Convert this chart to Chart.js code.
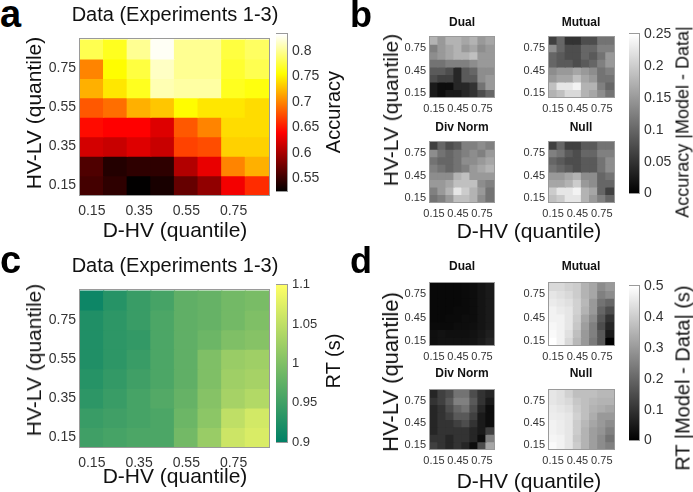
<!DOCTYPE html>
<html><head><meta charset="utf-8">
<script src="https://cdn.jsdelivr.net/npm/chart.js@4/dist/chart.umd.min.js"></script>
<style>
body{margin:0;background:#fff;}
#root{position:relative;width:693px;height:492px;overflow:hidden;font-family:"Liberation Sans",Arial,sans-serif;}
.t{position:absolute;white-space:nowrap;line-height:normal;color:#111;}
canvas{position:absolute;}
</style>
</head><body><div id="root"></div>
<script>
// ---------- DATA ----------
const xCats = ['0.15','0.25','0.35','0.45','0.55','0.65','0.75','0.85'];   // D-HV quantile bins
const yCats = [0.15,0.25,0.35,0.45,0.55,0.65,0.75,0.85];                   // HV-LV quantile bins
const bigXTicks = ['0.15','0.35','0.55','0.75'];
const bigYTicks = [0.15,0.35,0.55,0.75];
const smallXTicks = ['0.15','0.45','0.75'];
const smallYTicks = [0.15,0.45,0.75];

// rows listed from top (HV-LV 0.85) to bottom (HV-LV 0.15)
const accuracyData = [
  [0.780,0.765,0.800,0.830,0.800,0.800,0.775,0.785],
  [0.700,0.755,0.775,0.815,0.800,0.800,0.770,0.780],
  [0.720,0.745,0.765,0.810,0.805,0.805,0.765,0.760],
  [0.680,0.690,0.720,0.730,0.755,0.745,0.745,0.740],
  [0.645,0.640,0.640,0.625,0.680,0.700,0.740,0.740],
  [0.620,0.615,0.625,0.615,0.670,0.675,0.735,0.735],
  [0.560,0.540,0.545,0.545,0.605,0.630,0.700,0.720],
  [0.555,0.545,0.525,0.535,0.570,0.590,0.635,0.660]
];
const rtData = [
  [0.910,0.930,0.945,0.955,0.975,0.980,0.990,0.995],
  [0.925,0.935,0.945,0.960,0.975,0.980,0.990,1.000],
  [0.925,0.935,0.940,0.960,0.975,0.985,1.000,1.005],
  [0.925,0.935,0.945,0.960,0.975,1.000,1.020,1.025],
  [0.930,0.940,0.950,0.960,0.975,1.000,1.025,1.030],
  [0.935,0.945,0.955,0.965,0.980,1.005,1.030,1.040],
  [0.945,0.950,0.955,0.960,0.985,1.010,1.050,1.065],
  [0.950,0.955,0.960,0.960,0.990,1.020,1.060,1.070]
];
// |Model - Data| accuracy
const accDual = [
  [.175,.150,.175,.175,.163,.175,.150,.163],
  [.125,.150,.163,.175,.150,.163,.138,.150],
  [.138,.150,.163,.175,.175,.188,.150,.150],
  [.113,.113,.125,.125,.125,.138,.150,.150],
  [.088,.088,.075,.038,.088,.100,.138,.138],
  [.075,.063,.063,.038,.088,.088,.138,.150],
  [.025,.013,.013,.038,.038,.050,.113,.150],
  [.025,.013,.025,.025,.038,.050,.075,.100]
];
const accMutual = [
  [.063,.100,.050,.050,.075,.075,.113,.113],
  [.138,.100,.075,.075,.100,.100,.125,.125],
  [.100,.088,.075,.075,.100,.088,.113,.150],
  [.100,.088,.088,.075,.088,.100,.125,.150],
  [.138,.150,.150,.163,.150,.138,.113,.125],
  [.150,.163,.163,.188,.163,.150,.113,.113],
  [.188,.225,.225,.238,.175,.175,.125,.100],
  [.175,.188,.213,.213,.175,.163,.138,.113]
];
const accDivNorm = [
  [.063,.100,.075,.088,.125,.125,.138,.125],
  [.138,.113,.100,.113,.125,.138,.125,.150],
  [.113,.100,.100,.113,.138,.138,.150,.163],
  [.125,.113,.100,.113,.125,.150,.163,.175],
  [.138,.138,.138,.175,.188,.150,.150,.150],
  [.150,.150,.163,.188,.188,.188,.138,.125],
  [.125,.150,.175,.225,.200,.175,.150,.113],
  [.113,.125,.150,.188,.188,.175,.138,.113]
];
const accNull = [
  [.063,.100,.063,.063,.088,.088,.113,.113],
  [.125,.113,.088,.075,.100,.100,.125,.125],
  [.100,.088,.075,.075,.088,.088,.113,.138],
  [.113,.100,.088,.075,.088,.088,.113,.138],
  [.150,.150,.163,.175,.138,.138,.100,.113],
  [.163,.163,.175,.200,.150,.138,.100,.100],
  [.200,.225,.225,.238,.175,.163,.100,.063],
  [.188,.200,.225,.225,.175,.150,.125,.100]
];
// |Model - Data| RT (s)
const rtDual = [
  [.015,.015,.015,.015,.020,.025,.040,.050],
  [.015,.015,.015,.015,.020,.025,.040,.050],
  [.015,.015,.015,.015,.020,.025,.040,.050],
  [.015,.015,.015,.020,.020,.025,.040,.050],
  [.015,.015,.020,.020,.025,.025,.040,.050],
  [.020,.020,.020,.025,.025,.030,.040,.050],
  [.030,.035,.030,.030,.030,.035,.045,.060],
  [.030,.035,.035,.035,.035,.040,.050,.070]
];
const rtMutual = [
  [.425,.425,.410,.400,.350,.325,.275,.300],
  [.450,.440,.425,.400,.350,.325,.250,.275],
  [.460,.450,.440,.410,.360,.300,.225,.200],
  [.475,.460,.450,.410,.350,.300,.200,.150],
  [.475,.475,.450,.400,.325,.275,.175,.100],
  [.485,.475,.450,.390,.310,.250,.150,.075],
  [.490,.475,.440,.375,.300,.250,.175,.050],
  [.500,.475,.425,.360,.300,.240,.175,.000]
];
const rtDivNorm = [
  [.075,.125,.150,.225,.225,.150,.100,.075],
  [.100,.125,.175,.250,.250,.175,.100,.050],
  [.075,.100,.150,.200,.225,.150,.075,.025],
  [.075,.100,.125,.175,.175,.125,.050,.025],
  [.075,.100,.100,.125,.150,.100,.050,.025],
  [.075,.100,.100,.100,.100,.075,.050,.125],
  [.100,.100,.075,.100,.100,.075,.025,.250],
  [.125,.100,.075,.100,.075,.025,.150,.325]
];
const rtNull = [
  [.450,.440,.410,.375,.375,.375,.360,.360],
  [.450,.440,.425,.390,.375,.360,.350,.350],
  [.460,.450,.440,.400,.375,.350,.340,.325],
  [.465,.460,.450,.410,.375,.340,.300,.300],
  [.475,.465,.450,.400,.360,.325,.300,.275],
  [.475,.465,.450,.400,.350,.310,.290,.250],
  [.480,.475,.450,.390,.350,.310,.275,.225],
  [.490,.475,.450,.400,.350,.310,.275,.250]
];
// colour limits and colourbar ticks
const accLim = [0.524, 0.833], accCbTicks = [0.55,0.6,0.65,0.7,0.75,0.8];
const rtLim = [0.9, 1.1], rtCbTicks = [0.9,0.95,1,1.05,1.1];
const accDiffLim = [0, 0.25], accDiffTicks = [0,0.05,0.1,0.15,0.2,0.25];
const rtDiffLim = [0, 0.5], rtDiffTicks = [0,0.1,0.2,0.3,0.4,0.5];

// ---------- COLOUR MAPS ----------
const clamp = v => Math.max(0, Math.min(1, v));
const rgb = (r,g,b) => `rgb(${Math.round(r*255)},${Math.round(g*255)},${Math.round(b*255)})`;
const hot = t => rgb(clamp(t/0.375), clamp((t-0.375)/0.375), clamp((t-0.75)/0.25));
const summer = t => rgb(t, 0.5+0.5*t, 0.4);
const gray = t => rgb(t, t, t);
const hotStops = [[0,'rgb(0,0,0)'],[0.375,'rgb(255,0,0)'],[0.75,'rgb(255,255,0)'],[1,'rgb(255,255,255)']];
const summerStops = [[0,summer(0)],[1,summer(1)]];
const grayStops = [[0,'rgb(0,0,0)'],[1,'rgb(255,255,255)']];

// ---------- SETUP ----------
Chart.defaults.font.family = '"Liberation Sans", Arial, sans-serif';
Chart.defaults.color = '#333';
const root = document.getElementById('root');
const frame = {
  id: 'frame',
  afterDraw(chart) {
    const a = chart.chartArea, ctx = chart.ctx;
    ctx.save(); ctx.strokeStyle = '#9a9a9a'; ctx.lineWidth = 1;
    ctx.strokeRect(Math.round(a.left)-0.5, Math.round(a.top)-0.5, Math.round(a.right-a.left)+1, Math.round(a.bottom-a.top)+1);
    ctx.restore();
  }
};
function mkCanvas(r, p) {
  const c = document.createElement('canvas');
  const W = r.w + p.l + p.r, H = r.h + p.t + p.b;
  c.width = W; c.height = H;
  c.style.left = (r.x - p.l) + 'px'; c.style.top = (r.y - p.t) + 'px';
  c.style.width = W + 'px'; c.style.height = H + 'px';
  root.appendChild(c);
  return c;
}
function heatmap(r, rows, lim, cmap, small) {
  const p = small ? {l:30, r:2, t:2, b:18} : {l:50, r:2, t:2, b:26};
  const fs = small ? 11 : 14;
  const showX = small ? smallXTicks : bigXTicks;
  const yT = small ? smallYTicks : bigYTicks;
  const datasets = rows.map((row, i) => {
    const yc = yCats[rows.length - 1 - i];
    return {
      data: xCats.map(() => [yc - 0.05, yc + 0.05]),
      backgroundColor: row.map(v => cmap((v - lim[0]) / (lim[1] - lim[0]))),
      borderWidth: 0, barPercentage: 1, categoryPercentage: 1, grouped: false, inflateAmount: 0.6
    };
  });
  new Chart(mkCanvas(r, p), {
    type: 'bar',
    data: { labels: xCats, datasets },
    options: {
      responsive: false, animation: false, devicePixelRatio: 1,
      layout: { padding: { left: 0, right: p.r, top: p.t, bottom: 0 } },
      plugins: { legend: { display: false }, tooltip: { enabled: false } },
      scales: {
        x: {
          type: 'category', grid: { display: false, drawTicks: false }, border: { display: false },
          ticks: { autoSkip: false, maxRotation: 0, padding: small ? 5 : 8, font: { size: fs }, color: '#333',
                   callback: (v, i) => showX.includes(xCats[i]) ? xCats[i] : '' },
          afterFit: s => { s.height = p.b; }
        },
        y: {
          type: 'linear', min: 0.1, max: 0.9, grid: { display: false, drawTicks: false }, border: { display: false },
          ticks: { padding: 4, font: { size: fs }, color: '#333', callback: v => v.toFixed(2) },
          afterBuildTicks: s => { s.ticks = yT.map(v => ({ value: v })); },
          afterFit: s => { s.width = p.l; }
        }
      }
    },
    plugins: [frame]
  });
}
function colorbar(r, lim, ticks, stops, fs, fmt) {
  const p = {l:0, r:40, t:8, b:8};
  new Chart(mkCanvas(r, p), {
    type: 'bar',
    data: { labels: [''], datasets: [{
      data: [[lim[0], lim[1]]], borderWidth: 0, barPercentage: 1, categoryPercentage: 1,
      backgroundColor: ctx => {
        const ch = ctx.chart, a = ch.chartArea;
        if (!a || !isFinite(a.top) || !isFinite(a.bottom) || a.bottom <= a.top) return stops[0][1];
        const g = ch.ctx.createLinearGradient(0, a.bottom, 0, a.top);
        stops.forEach(s => g.addColorStop(s[0], s[1]));
        return g;
      }
    }]},
    options: {
      responsive: false, animation: false, devicePixelRatio: 1,
      layout: { padding: { left: 0, right: 0, top: p.t, bottom: p.b } },
      plugins: { legend: { display: false }, tooltip: { enabled: false } },
      scales: {
        x: { display: false },
        y: {
          position: 'right', min: lim[0], max: lim[1], grid: { display: false, drawTicks: false }, border: { display: false },
          ticks: { padding: 5, font: { size: fs }, color: '#333', callback: fmt },
          afterBuildTicks: s => { s.ticks = ticks.map(v => ({ value: v })); },
          afterFit: s => { s.width = p.r; }
        }
      }
    },
    plugins: [frame]
  });
}
function txt(s, x, base, size, bold) {
  const d = document.createElement('div'); d.className = 't'; d.textContent = s;
  d.style.fontSize = size + 'px'; if (bold) d.style.fontWeight = 'bold';
  d.style.left = x + 'px'; d.style.top = (base - 0.92 * size) + 'px'; d.style.transform = 'translateX(-50%)';
  root.appendChild(d);
}
function letter(s, x, base, size) {
  const d = document.createElement('div'); d.className = 't'; d.textContent = s;
  d.style.fontSize = size + 'px'; d.style.fontWeight = '900'; d.style.color = '#000';
  d.style.left = x + 'px'; d.style.top = (base - 0.92 * size) + 'px';
  root.appendChild(d);
}
function vtxt(s, cx, cy, size) {
  const d = document.createElement('div'); d.className = 't'; d.textContent = s;
  d.style.fontSize = size + 'px'; d.style.left = cx + 'px'; d.style.top = cy + 'px';
  d.style.transform = 'translate(-50%,-50%) rotate(-90deg)';
  root.appendChild(d);
}
const f2 = v => String(v);

// ---------- PANEL a ----------
heatmap({x:80, y:29, w:189, h:166}, accuracyData, accLim, hot, false);
colorbar({x:276, y:29, w:11, h:168}, accLim, accCbTicks, hotStops, 14, f2);
letter('a', 0, 28, 38);
txt('Data (Experiments 1-3)', 175, 21, 20);
txt('D-HV (quantile)', 175, 237, 21);
vtxt('HV-LV (quantile)', 34, 113, 21);
vtxt('Accuracy', 333, 112, 20);

// ---------- PANEL b ----------
heatmap({x:430, y:28, w:64, h:69}, accDual, accDiffLim, gray, true);
heatmap({x:549, y:28, w:65, h:69}, accMutual, accDiffLim, gray, true);
heatmap({x:430, y:133, w:64, h:69}, accDivNorm, accDiffLim, gray, true);
heatmap({x:549, y:133, w:65, h:69}, accNull, accDiffLim, gray, true);
colorbar({x:629, y:29, w:10, h:170}, accDiffLim, accDiffTicks, grayStops, 14, f2);
letter('b', 350, 27, 36);
txt('Dual', 462, 26, 12, true);
txt('Mutual', 581, 26, 12, true);
txt('Div Norm', 462, 131, 12, true);
txt('Null', 581, 131, 12, true);
txt('D-HV (quantile)', 529, 238, 21);
vtxt('HV-LV (quantile)', 391, 110, 21);
vtxt('Accuracy |Model - Data|', 683, 122, 18);

// ---------- PANEL c ----------
heatmap({x:80, y:280, w:189, h:167}, rtData, rtLim, summer, false);
colorbar({x:276, y:280, w:11, h:167}, rtLim, rtCbTicks, summerStops, 13, f2);
letter('c', 0, 274, 38);
txt('Data (Experiments 1-3)', 175, 272, 20);
txt('D-HV (quantile)', 175, 483, 21);
vtxt('HV-LV (quantile)', 34, 360, 21);
vtxt('RT (s)', 333, 361, 20);

// ---------- PANEL d ----------
heatmap({x:430, y:274, w:64, h:71}, rtDual, rtDiffLim, gray, true);
heatmap({x:549, y:274, w:65, h:71}, rtMutual, rtDiffLim, gray, true);
heatmap({x:430, y:381, w:64, h:68}, rtDivNorm, rtDiffLim, gray, true);
heatmap({x:549, y:381, w:65, h:68}, rtNull, rtDiffLim, gray, true);
colorbar({x:629, y:281, w:10, h:165}, rtDiffLim, rtDiffTicks, grayStops, 14, f2);
letter('d', 350, 273, 36);
txt('Dual', 462, 270, 12, true);
txt('Mutual', 581, 270, 12, true);
txt('Div Norm', 462, 377, 12, true);
txt('Null', 581, 377, 12, true);
txt('D-HV (quantile)', 529, 488, 21);
vtxt('HV-LV (quantile)', 391, 372, 22);
vtxt('RT |Model - Data| (s)', 683, 378, 20);
</script>
</body></html>
